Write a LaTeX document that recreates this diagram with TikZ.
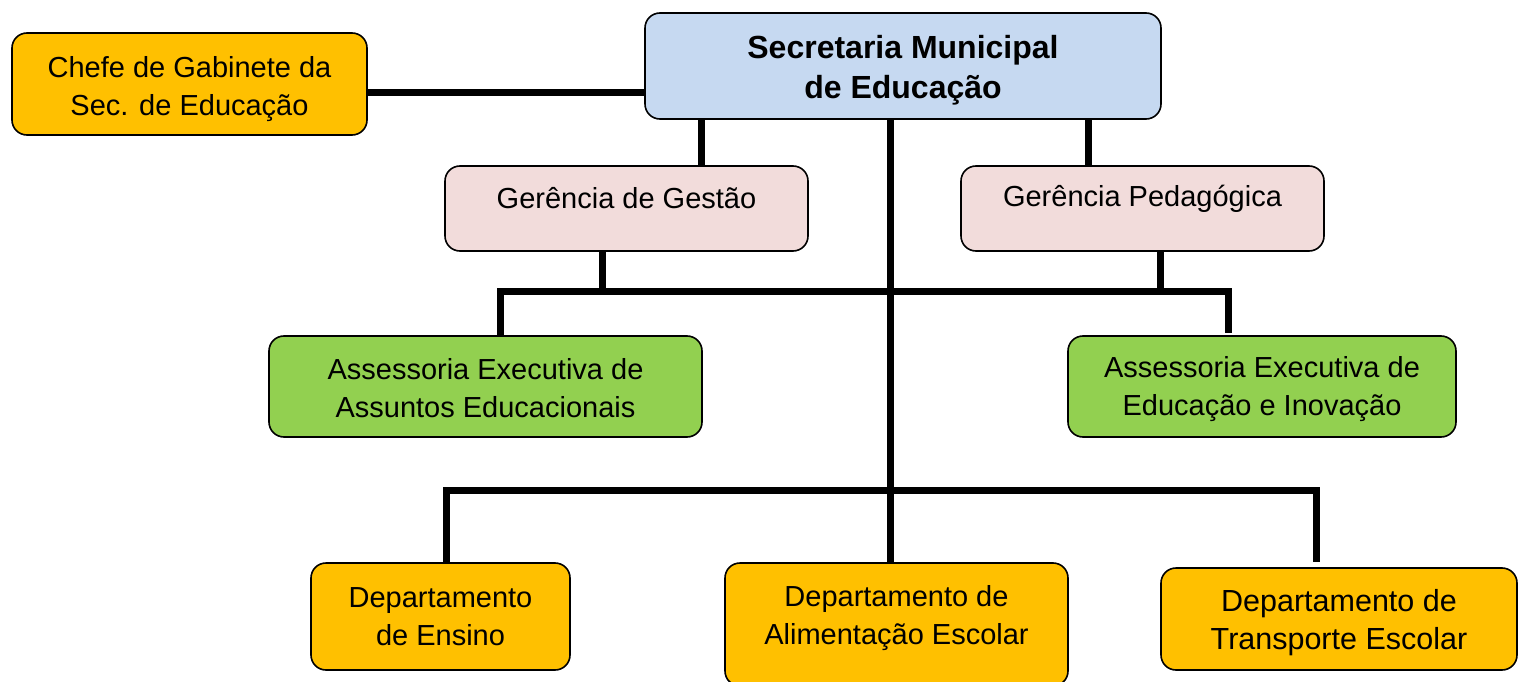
\documentclass[tikz,border=0pt]{standalone}
\usepackage{fontspec}
\setmainfont{Liberation Sans}
\definecolor{orangebox}{HTML}{FFC000}
\definecolor{bluebox}{HTML}{C6D9F1}
\definecolor{pinkbox}{HTML}{F2DCDB}
\definecolor{greenbox}{HTML}{92D050}
\begin{document}
\begin{tikzpicture}[x=1pt,y=-1pt,
  box/.style={draw=black, line width=1.6pt, rounded corners=15pt, inner sep=0pt},
  txt/.style={font=\fontsize{29}{38}\selectfont, align=center, inner sep=0pt},
  conn/.style={draw=black, line width=7pt, line join=miter}]
\useasboundingbox (0,0) rectangle (1519,682);
\clip (0,0) rectangle (1519,682);
\node[box, fill=orangebox, minimum width=355pt, minimum height=102pt,
  label={[txt, yshift=-5pt]center:Chefe de Gabinete da\\Sec. de Educação}] (chefe) at (189.5,84) {};
\node[box, fill=bluebox, minimum width=516pt, minimum height=106pt,
  label={[txt, font=\fontsize{32}{40}\selectfont\bfseries, yshift=-4pt]center:Secretaria Municipal\\de Educação}] (sec) at (903,66) {};
\node[box, fill=pinkbox, minimum width=363pt, minimum height=85pt,
  label={[txt, yshift=10pt]center:Gerência de Gestão}] (ggest) at (626.5,208.5) {};
\node[box, fill=pinkbox, minimum width=363pt, minimum height=85pt,
  label={[txt, yshift=10pt]center:Gerência Pedagógica}] (gped) at (1142.5,208.5) {};
\node[box, fill=greenbox, minimum width=433pt, minimum height=101pt,
  label={[txt, yshift=-2pt]center:Assessoria Executiva de\\Assuntos Educacionais}] (aesq) at (485.5,386.5) {};
\node[box, fill=greenbox, minimum width=388pt, minimum height=101pt,
  label={[txt, yshift=-3pt]center:Assessoria Executiva de\\Educação e Inovação}] (adir) at (1262,386.5) {};
\node[box, fill=orangebox, minimum width=259pt, minimum height=107pt,
  label={[txt]center:Departamento\\de Ensino}] (ensino) at (440.5,616.5) {};
\node[box, fill=orangebox, minimum width=343pt, minimum height=123pt,
  label={[txt, yshift=6pt]center:Departamento de\\Alimentação Escolar}] (alim) at (896.5,624.5) {};
\node[box, fill=orangebox, minimum width=356pt, minimum height=102pt,
  label={[txt, font=\fontsize{30.5}{38}\selectfont, yshift=-4pt]center:Departamento de\\Transporte Escolar}] (transp) at (1339,619) {};
% connectors
\coordinate (jA) at (500,291);
\coordinate (jB) at (1228,291);
\coordinate (jBend) at (1228,333);
\coordinate (jC) at (446,490);
\coordinate (jD) at (1316,490);
\coordinate (jDend) at (1316,562);
\draw[conn] (chefe.east |- 0,93) -- (sec.west |- 0,93);
\draw[conn] (sec.south -| 701,0) -- (ggest.north -| 701,0);
\draw[conn] (sec.south -| 1088,0) -- (gped.north -| 1088,0);
\draw[conn] (sec.south -| 890,0) -- (alim.north -| 890,0);
\draw[conn] (ggest.south -| 602,0) -- (602,291);
\draw[conn] (gped.south -| 1160,0) -- (1160,291);
\draw[conn] (aesq.north -| jA) -- (jA) -- (jB) -- (jBend);
\draw[conn] (ensino.north -| jC) -- (jC) -- (jD) -- (jDend);
\end{tikzpicture}
\end{document}
